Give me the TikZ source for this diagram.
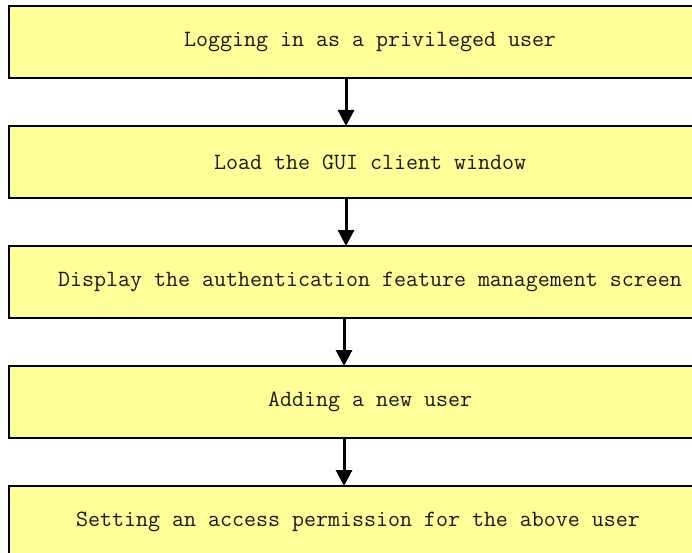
\documentclass[tikz,border=0pt]{standalone}
\usepackage{fontspec}
\usetikzlibrary{arrows.meta}
\begin{document}
\begin{tikzpicture}[x=1pt,y=-1pt,
  stepbox/.style={draw=black,line width=2pt,fill=boxyellow,rectangle,
    minimum width=722pt,minimum height=72pt,inner sep=0pt,anchor=north west,
    font=\fontsize{23.3pt}{26pt}\selectfont\ttfamily,text=black!90},
  flowarrow/.style={draw=black,line width=3pt,
    -{Triangle[length=16pt,width=16pt]},shorten >=-1pt}]
\definecolor{boxyellow}{HTML}{FFFF99}
\useasboundingbox (0,0) rectangle (692,553);
\clip (0,0) rectangle (692,553);
\node[stepbox] (b1) at (8,5) {Logging in as a privileged user};
\node[stepbox] (b2) at (8,125) {Load the GUI client window};
\node[stepbox] (b3) at (8,245) {Display the authentication feature management screen};
\node[stepbox] (b4) at (8,365) {Adding a new user};
\node[stepbox] (b5) at (8,485) {Setting an access permission for the above user\hspace*{24pt}};
\coordinate (a1s) at (346,77); \coordinate (a1e) at (346,125);
\coordinate (a2s) at (346,197); \coordinate (a2e) at (346,245);
\coordinate (a3s) at (344,317); \coordinate (a3e) at (344,365);
\coordinate (a4s) at (344,437); \coordinate (a4e) at (344,485);
\draw[flowarrow] (a1s) -- (a1e);
\draw[flowarrow] (a2s) -- (a2e);
\draw[flowarrow] (a3s) -- (a3e);
\draw[flowarrow] (a4s) -- (a4e);
\end{tikzpicture}
\end{document}
